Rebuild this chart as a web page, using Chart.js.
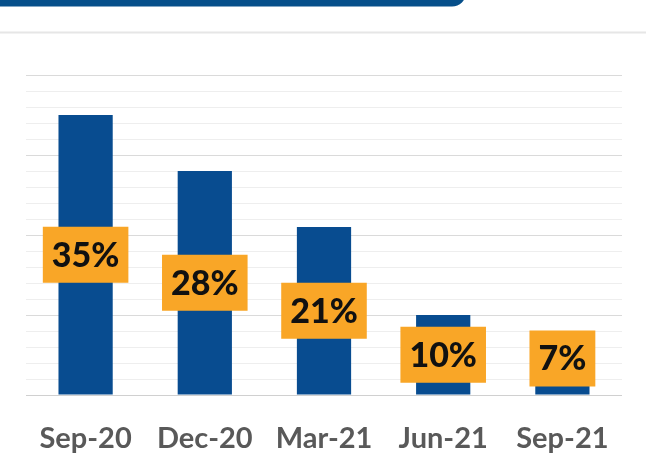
<!DOCTYPE html>
<html>
<head>
<meta charset="utf-8">
<script src="https://cdn.jsdelivr.net/npm/chart.js@4/dist/chart.umd.min.js"></script>
<style>
  html, body { margin: 0; padding: 0; background: #ffffff; }
  #wrap { width: 646px; height: 462px; position: relative; }
</style>
</head>
<body>
<div id="wrap"><canvas id="c" width="646" height="462"></canvas></div>
<script>
const categories = ["Sep-20", "Dec-20", "Mar-21", "Jun-21", "Sep-21"];
const values = [35, 28, 21, 10, 7];
const valueLabels = ["35%", "28%", "21%", "10%", "7%"];

const BAR_COLOR = "#084C90";
const BOX_COLOR = "#F9A627";

const decorPlugin = {
  id: "decor",
  beforeDraw(chart) {
    const ctx = chart.ctx;
    ctx.save();
    ctx.fillStyle = "#ffffff";
    ctx.fillRect(0, 0, chart.width, chart.height);
    ctx.fillStyle = "#064F8A";
    ctx.beginPath();
    ctx.roundRect(-30, -30, 496, 36.5, 14);
    ctx.fill();
    ctx.fillStyle = "#E6E6E6";
    ctx.fillRect(0, 31.5, chart.width, 2);
    ctx.restore();
  }
};

const labelPlugin = {
  id: "boxLabels",
  afterDatasetsDraw(chart) {
    const ctx = chart.ctx;
    const meta = chart.getDatasetMeta(0);
    ctx.save();
    ctx.font = "900 34px Lato";
    ctx.textAlign = "center";
    ctx.textBaseline = "middle";
    meta.data.forEach((bar, i) => {
      const txt = valueLabels[i];
      const w = ctx.measureText(txt).width + 18;
      const h = 56;
      let cy = (bar.y + bar.base) / 2;
      if (cy + h / 2 > bar.base - 8) cy = bar.base - 8 - h / 2;
      ctx.fillStyle = BOX_COLOR;
      ctx.fillRect(bar.x - w / 2, cy - h / 2, w, h);
      ctx.fillStyle = "#111111";
      ctx.fillText(txt, bar.x, cy + 1);
    });
    ctx.restore();
  }
};

new Chart(document.getElementById("c"), {
  type: "bar",
  data: {
    labels: categories,
    datasets: [{
      data: values,
      backgroundColor: BAR_COLOR,
      borderWidth: 0,
      categoryPercentage: 1.0,
      barPercentage: 0.455
    }]
  },
  options: {
    responsive: false,
    animation: false,
    devicePixelRatio: 1,
    layout: { padding: { left: 26, right: 24, top: 75, bottom: 0 } },
    plugins: { legend: { display: false }, tooltip: { enabled: false } },
    scales: {
      x: {
        grid: { display: false, drawTicks: false },
        border: { display: false },
        afterFit: (scale) => { scale.height = 67; },
        ticks: {
          color: "#595959",
          font: { family: "Lato", weight: "bold", size: 29 },
          padding: 26,
          maxRotation: 0
        }
      },
      y: {
        min: 0, max: 40,
        ticks: { display: false, stepSize: 2 },
        border: { display: false },
        grid: {
          drawTicks: false,
          lineWidth: 1,
          color: (c) => {
            const v = c.tick ? c.tick.value : 0;
            if (v === 0) return "#D0D0D0";
            return v % 10 === 0 ? "#DADADA" : "#EEEEEE";
          }
        }
      }
    }
  },
  plugins: [decorPlugin, labelPlugin]
});
</script>
</body>
</html>
